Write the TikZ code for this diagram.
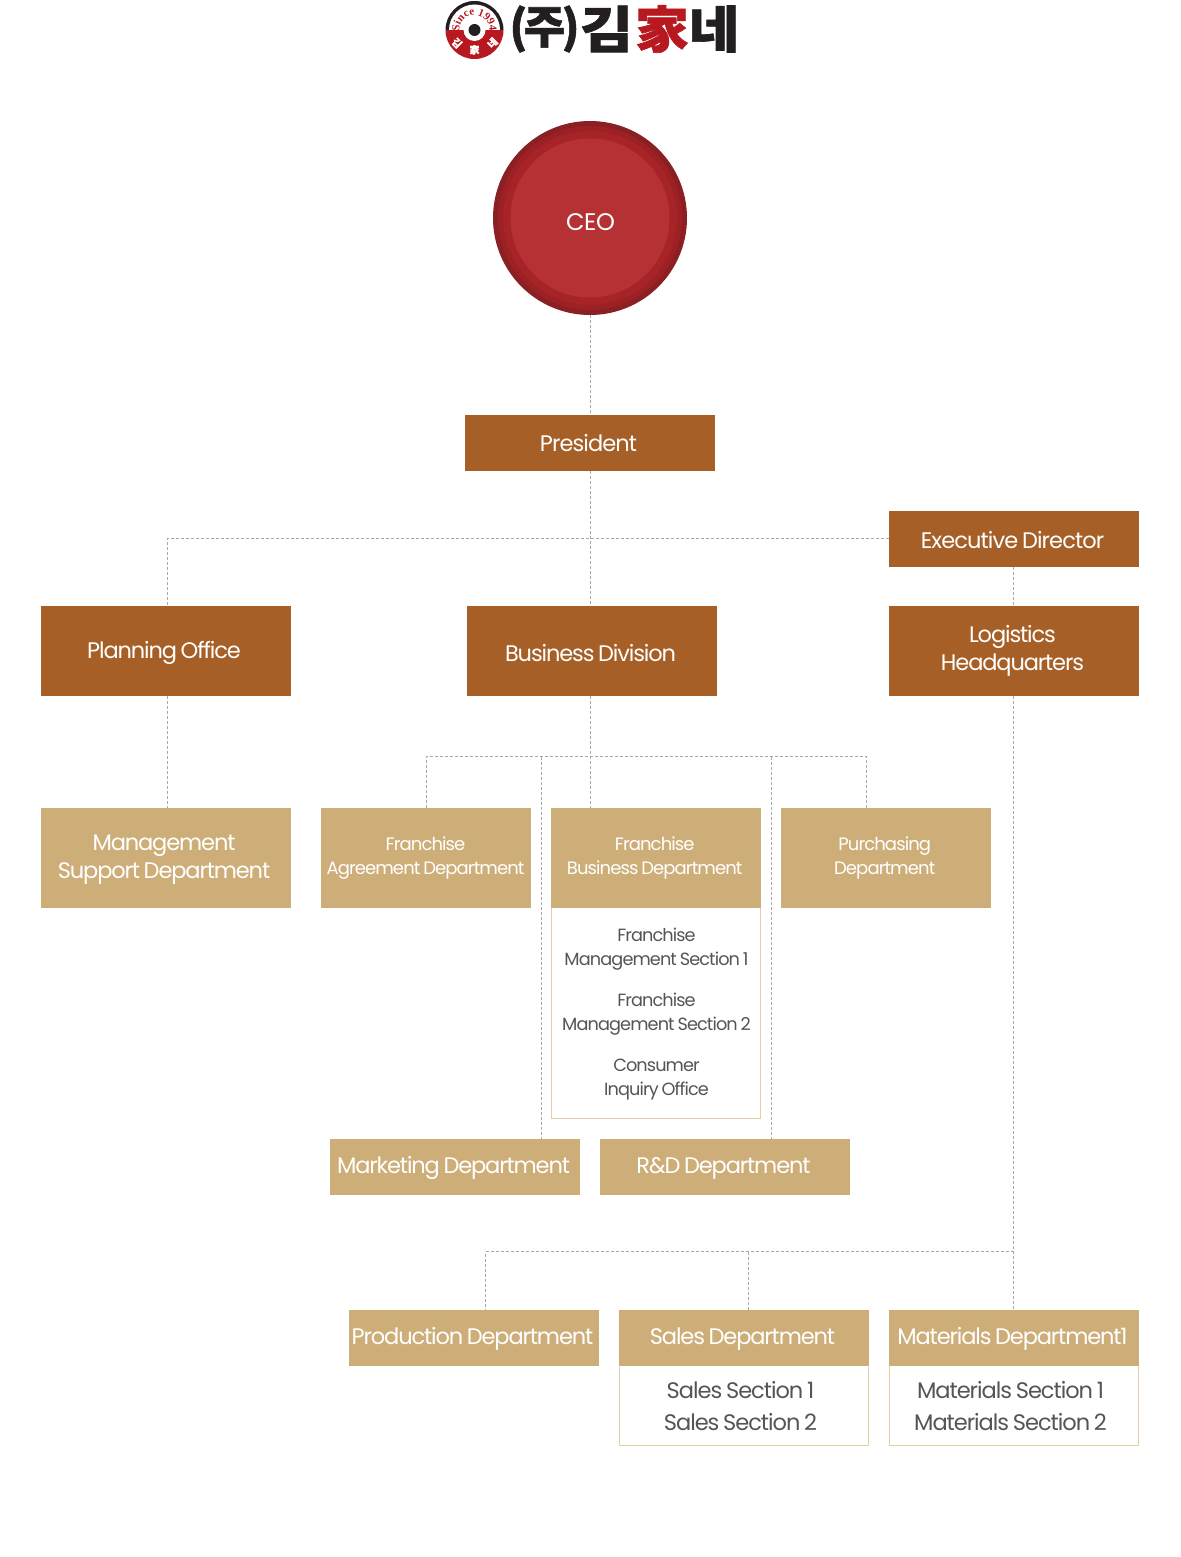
\documentclass[tikz,border=0pt]{standalone}
\usepackage{fontspec}
\setmainfont{Poppins}[WordSpace=0.75]
\newfontfamily\krbold{Noto Sans CJK KR}[BoldFeatures={FakeBold=1.2}]
\newfontfamily\serifb{Liberation Serif}
\usetikzlibrary{decorations.text}
\definecolor{brownbox}{HTML}{A66027}
\definecolor{tanbox}{HTML}{CEAE78}
\definecolor{tanline}{HTML}{E5CFA8}
\definecolor{subtxt}{HTML}{555555}
\definecolor{logored}{HTML}{B81820}
\definecolor{logoblack}{HTML}{231F20}
\definecolor{ceoa}{HTML}{8A2024}
\definecolor{ceob}{HTML}{9C2024}
\definecolor{ceoc}{HTML}{A62428}
\definecolor{ceod}{HTML}{B53133}
\tikzset{
  x=1pt,y=-1pt,
  boxbase/.style={rectangle,inner sep=0pt,outer sep=0pt,anchor=north west,minimum width=250pt},
  brownnode/.style={boxbase,fill=brownbox},
  tannode/.style={boxbase,fill=tanbox},
  subnode/.style={rectangle,inner sep=0pt,outer sep=0pt,anchor=north west,draw=tanline,fill=white,line width=1pt},
  link/.style={draw=black!34,line width=1pt,dash pattern=on 3pt off 2pt},
  bigt/.style={inner sep=0pt,align=center,text=white,xshift=-1.5pt,font=\fontsize{22.5}{28}\selectfont\addfontfeature{LetterSpace=-5}},
  bigw/.style={bigt,font=\fontsize{22.5}{28}\selectfont\addfontfeature{LetterSpace=-4}},
  smallt/.style={inner sep=0pt,align=center,text=white,xshift=-1.3pt,font=\fontsize{18}{24}\selectfont\addfontfeature{LetterSpace=-5}},
  subt/.style={inner sep=0pt,align=center,text=subtxt,xshift=0.5pt,font=\fontsize{17.7}{24}\selectfont\addfontfeature{LetterSpace=-5}},
  subbig/.style={bigt,text=subtxt,xshift=-2pt,font=\fontsize{22.5}{32}\selectfont\addfontfeature{LetterSpace=-4.5}},
  logotxt/.style={inner sep=0pt},
  logosm/.style={inner sep=0pt,text=white,font=\krbold\bfseries\fontsize{10}{10}\selectfont},
}
\begin{document}
\begin{tikzpicture}
\useasboundingbox (0,0) rectangle (1180,1557);
\fill[white] (0,0) rectangle (1180,1557);
% logo
\fill[logoblack] (474.5,30) circle (29);
\fill[white] (474.5,30) circle (25.5);
\begin{scope}
\clip (440,31) rectangle (510,62);
\fill[white] (474.5,30) circle (29.5);
\fill[logored] (474.5,30) circle (29);
\end{scope}
\fill[white] (474.5,30) circle (11);
\fill[logoblack] (474.5,30) circle (6);
\path[decorate,decoration={text along path,text align=center,
 text={|\serifb\bfseries\fontsize{11}{11}\selectfont\color{logored}|Since 1994}}]
 (460,33.9) arc[start angle=165,end angle=375,radius=15];
\node[logosm,rotate=-45] (logol) at (457,43) {김};
\node[logosm] (logom) at (474.5,50) {家};
\node[logosm,rotate=45] (logor) at (492.5,43) {네};
\node[logotxt,text=logoblack,font=\krbold\bfseries\fontsize{45}{45}\selectfont] (logoa) at (544.5,29) {\addfontfeature{LetterSpace=-8}(주)};
\node[logotxt,text=logoblack,xscale=1.15,font=\krbold\bfseries\fontsize{50}{50}\selectfont] (logob) at (606.5,29) {김};
\node[logotxt,text=logored,xscale=1.08,font=\krbold\bfseries\fontsize{50}{50}\selectfont] (logoc) at (662,29) {家};
\node[logotxt,text=logoblack,xscale=1.1,font=\krbold\bfseries\fontsize{50}{50}\selectfont] (logod) at (714,29) {네};
% CEO
\fill[ceoa] (590,218) circle (97);
\fill[ceob] (590,218) circle (92);
\fill[ceoc] (590,218) circle (87);
\node[circle,minimum size=159pt,inner sep=0pt,outer sep=0pt,fill=ceod,label={[inner sep=0pt,text=white,yshift=-4pt,xshift=0.5pt,font=\fontsize{24}{28}\selectfont\addfontfeature{LetterSpace=-2}]center:CEO}] (ceo) at (590,218) {};
\coordinate (ceobot) at (590.5,315);
% boxes
\node[brownnode,minimum height=56pt,label={[bigw]center:President}] (pres) at (465,415) {};
\node[brownnode,minimum height=56pt,label={[bigw,yshift=-1pt]center:{Executive Director}}] (exec) at (889,511) {};
\node[brownnode,minimum height=90pt,label={[bigt,yshift=-2pt,xshift=-0.5pt]center:{Planning Office}}] (plan) at (41,606) {};
\node[brownnode,minimum height=90pt,label={[bigt,yshift=-2pt]center:{Business Division}}] (biz) at (467,606) {};
\node[brownnode,minimum height=90pt,label={[bigt]center:{Logistics\\Headquarters}}] (logi) at (889,606) {};
\node[tannode,minimum height=100pt,label={[bigt,yshift=-2pt,xshift=-0.5pt]center:{Management\\Support Department}}] (mgmt) at (41,808) {};
\node[tannode,minimum width=210pt,minimum height=100pt,label={[smallt,xshift=0.8pt]center:{Franchise\\Agreement Department}}] (fa) at (321,808) {};
\node[subnode,minimum width=209pt,minimum height=211pt,label={[subt,yshift=-1.5pt]center:{Franchise\\Management Section 1\\[17pt]Franchise\\Management Section 2\\[17pt]Consumer\\Inquiry Office}}] (fsub) at (551.5,907) {};
\node[tannode,minimum width=210pt,minimum height=100pt,label={[smallt]center:{Franchise\\Business Department}}] (fb) at (551,808) {};
\node[tannode,minimum width=210pt,minimum height=100pt,label={[smallt]center:{Purchasing\\Department}}] (pur) at (781,808) {};
\node[tannode,minimum height=56pt,label={[bigt,yshift=-1pt]center:{Marketing Department}}] (mkt) at (330,1139) {};
\node[tannode,minimum height=56pt,label={[bigt,yshift=-1pt]center:{R\&D Department}}] (rd) at (600,1139) {};
\node[tannode,minimum height=56pt,label={[bigt,yshift=-1pt]center:{Production Department}}] (prod) at (349,1310) {};
\node[subnode,minimum width=249pt,minimum height=80pt,label={[subbig,yshift=-1pt]center:{Sales Section 1\\Sales Section 2}}] (ssub) at (619.5,1365.5) {};
\node[tannode,minimum height=56pt,label={[bigt,yshift=-1pt]center:{Sales Department}}] (sales) at (619,1310) {};
\node[subnode,minimum width=249pt,minimum height=80pt,label={[subbig,yshift=-1pt]center:{Materials Section 1\\Materials Section 2}}] (msub) at (889.5,1365.5) {};
\node[tannode,minimum height=56pt,label={[bigt,yshift=-1pt]center:{Materials Department1}}] (mat) at (889,1310) {};
% junctions
\coordinate (jl) at (167.5,538.5);
\coordinate (hl) at (426.5,756.5);
\coordinate (hr) at (866.5,756.5);
\coordinate (hc) at (590.5,756.5);
\coordinate (hm) at (541.5,756.5);
\coordinate (hd) at (771.5,756.5);
\coordinate (lc) at (485.5,1251.5);
\coordinate (lm) at (748.5,1251.5);
\coordinate (lr) at (1013.5,1251.5);
% connectors
\draw[link] (ceobot) -- (pres.north -| ceobot);
\draw[link] (pres.south -| ceobot) -- (biz.north -| ceobot);
\draw[link] (exec.west |- jl) -- (jl) -- (plan.north -| jl);
\draw[link] (exec.south -| lr) -- (logi.north -| lr);
\draw[link] (plan.south -| jl) -- (mgmt.north -| jl);
\draw[link] (biz.south -| hc) -- (fb.north -| hc);
\draw[link] (fa.north -| hl) -- (hl) -- (hr) -- (pur.north -| hr);
\draw[link] (hm) -- (mkt.north -| hm);
\draw[link] (hd) -- (rd.north -| hd);
\draw[link] (logi.south -| lr) -- (mat.north -| lr);
\draw[link] (lr) -- (lc) -- (prod.north -| lc);
\draw[link] (lm) -- (sales.north -| lm);
\end{tikzpicture}
\end{document}
